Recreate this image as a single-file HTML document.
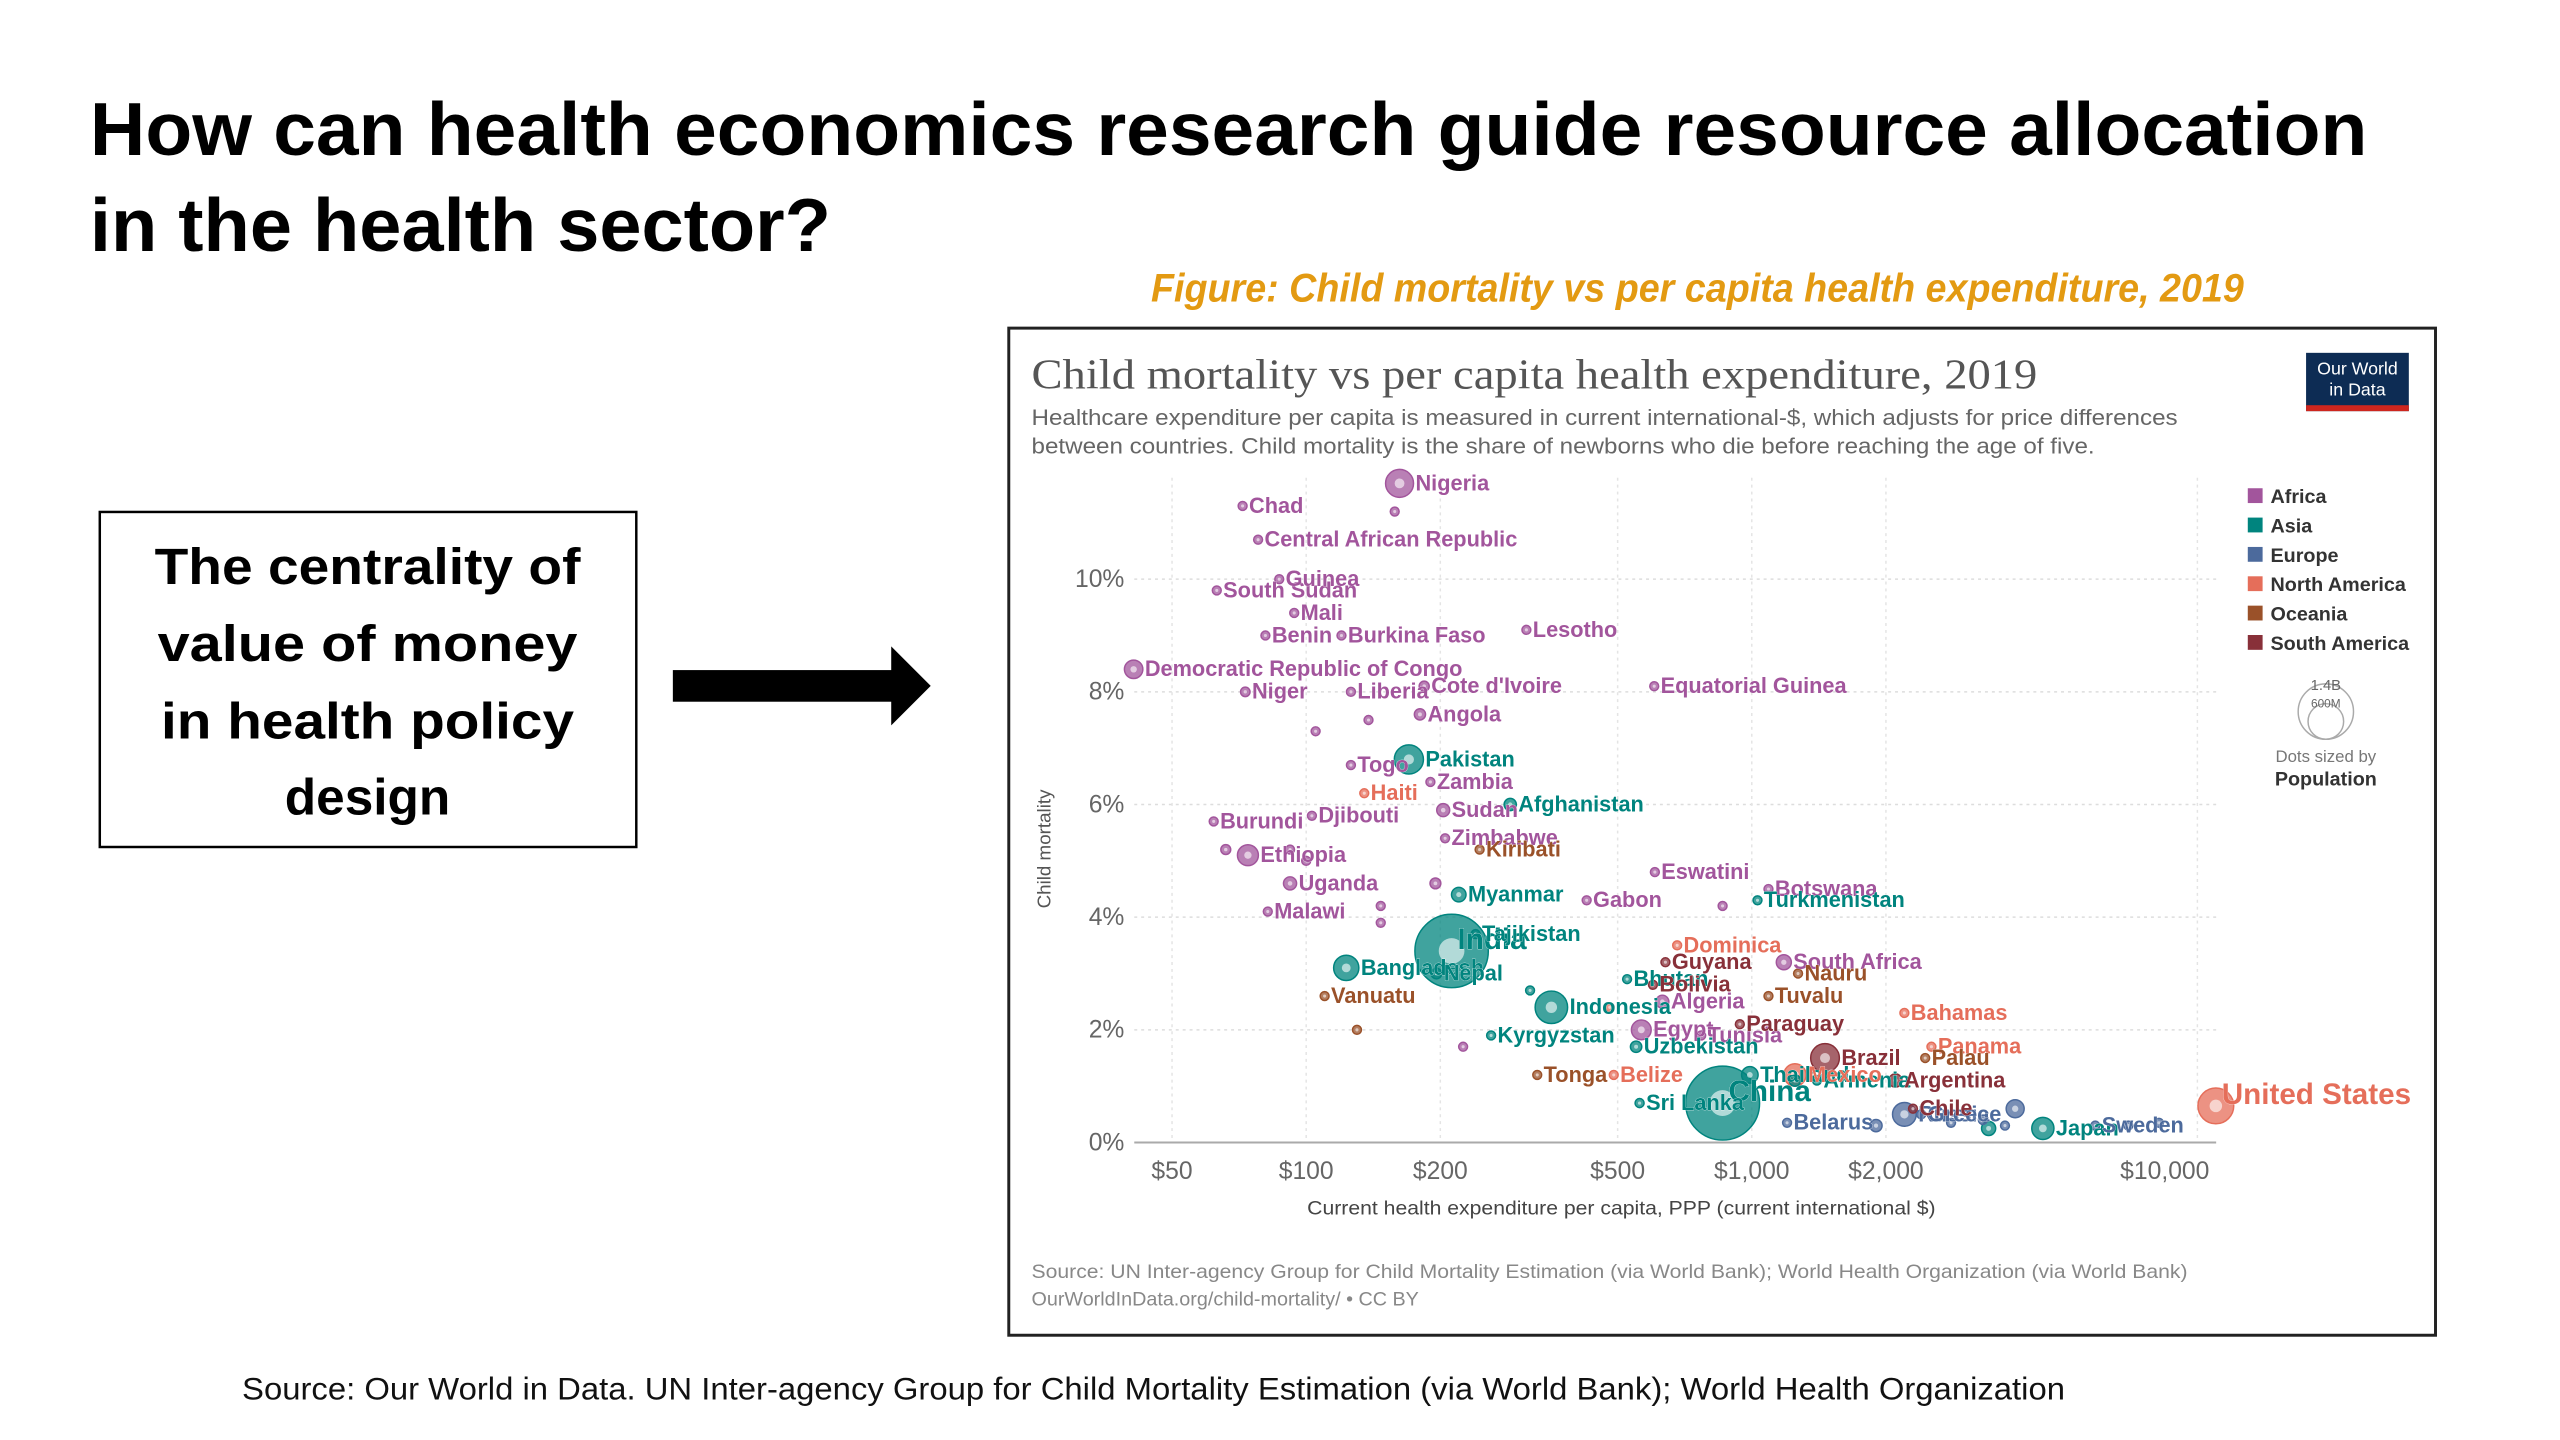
<!DOCTYPE html>
<html><head><meta charset="utf-8"><style>
html,body{margin:0;padding:0;background:#fff;width:2560px;height:1440px;overflow:hidden;}
svg{display:block;font-family:"Liberation Sans",sans-serif;}
</style></head><body>
<svg id="page" width="2560" height="1440" viewBox="0 0 2591 1457" preserveAspectRatio="none" xmlns="http://www.w3.org/2000/svg">
<rect width="2591" height="1457" fill="#fff"/>
<g font-weight="bold" font-size="76" fill="#000">
<text x="91" y="157" textLength="2305" lengthAdjust="spacingAndGlyphs">How can health economics research guide resource allocation</text>
<text x="91" y="254" textLength="750" lengthAdjust="spacingAndGlyphs">in the health sector?</text>
</g>
<text x="1165" y="305" font-size="40" font-weight="bold" font-style="italic" fill="#e39a12" textLength="1106" lengthAdjust="spacingAndGlyphs">Figure: Child mortality vs per capita health expenditure, 2019</text>
<g>
<rect x="101" y="518" width="543" height="339" fill="#fff" stroke="#000" stroke-width="2.5"/>
<g font-weight="bold" font-size="52" text-anchor="middle" fill="#000">
<text x="372" y="591" textLength="431" lengthAdjust="spacingAndGlyphs">The centrality of</text>
<text x="372" y="669" textLength="425" lengthAdjust="spacingAndGlyphs">value of money</text>
<text x="372" y="747" textLength="418" lengthAdjust="spacingAndGlyphs">in health policy</text>
<text x="372" y="824">design</text>
</g></g>
<g fill="#000">
<rect x="681" y="678" width="230" height="32"/>
<polygon points="902,654 942,694 902,734"/>
</g>
<text x="245" y="1416" font-size="32" fill="#111" textLength="1845" lengthAdjust="spacingAndGlyphs">Source: Our World in Data. UN Inter-agency Group for Child Mortality Estimation (via World Bank); World Health Organization</text>

<g>
<rect x="1021" y="332" width="1444" height="1019" fill="#fff" stroke="#222" stroke-width="3"/>
<text x="1044" y="393" font-family="Liberation Serif,serif" font-size="43" fill="#555" textLength="1018" lengthAdjust="spacingAndGlyphs">Child mortality vs per capita health expenditure, 2019</text>
<text x="1044" y="430" font-size="22" fill="#666" textLength="1160" lengthAdjust="spacingAndGlyphs">Healthcare expenditure per capita is measured in current international-$, which adjusts for price differences</text>
<text x="1044" y="459" font-size="22" fill="#666" textLength="1076" lengthAdjust="spacingAndGlyphs">between countries. Child mortality is the share of newborns who die before reaching the age of five.</text>
<g>
<rect x="2334" y="357" width="104" height="59" fill="#0d2c54"/>
<rect x="2334" y="410" width="104" height="6" fill="#ce261e"/>
<text x="2386" y="379" font-size="18" fill="#fff" text-anchor="middle">Our World</text>
<text x="2386" y="400" font-size="18" fill="#fff" text-anchor="middle">in Data</text>
</g>
<text transform="translate(1063,859) rotate(-90)" font-size="19" fill="#555" text-anchor="middle">Child mortality</text>
<text x="1641" y="1229" font-size="20" fill="#444" text-anchor="middle" textLength="636" lengthAdjust="spacingAndGlyphs">Current health expenditure per capita, PPP (current international $)</text>
<text x="1044" y="1293" font-size="20" fill="#888" textLength="1170" lengthAdjust="spacingAndGlyphs">Source: UN Inter-agency Group for Child Mortality Estimation (via World Bank); World Health Organization (via World Bank)</text>
<text x="1044" y="1321" font-size="20" fill="#888">OurWorldInData.org/child-mortality/ • CC BY</text>
<g id="grid"></g>
<g id="points"></g>
<g id="labels"></g>
<g id="legend"></g>
</g>
</svg>
<script>
const yTicks=[0,2,4,6,8,10];
const yTickLabels=["0%","2%","4%","6%","8%","10%"];
const xTicks=[50,100,200,500,1000,2000,10000];
const xTickLabels=["$50","$100","$200","$500","$1,000","$2,000","$10,000"];
const continents=["Africa","Asia","Europe","North America","Oceania","South America"];
const continentColors=["#a2559c","#00847e","#4c6a9c","#e56e5a","#9a5129","#883039"];
const names=["Chad","Nigeria","","Central African Republic","South Sudan","Guinea","Mali","Benin","Burkina Faso","Lesotho","Democratic Republic of Congo","Niger","Liberia","Cote d'Ivoire","Equatorial Guinea","Angola","","","Togo","Zambia","Burundi","Djibouti","Sudan","Zimbabwe","Ethiopia","","","","Uganda","Malawi","","","","Gabon","Eswatini","","South Africa","Botswana","Egypt","Algeria","Tunisia","",
"Pakistan","Afghanistan","Myanmar","India","Bangladesh","Nepal","Tajikistan","Indonesia","","Kyrgyzstan","Bhutan","Uzbekistan","China","Thailand","Sri Lanka","Turkmenistan","Armenia","","Japan","",
"Russia","Belarus","Greece","Sweden","","","","","","","",
"United States","Dominica","Haiti","Bahamas","Panama","Belize","","Mexico",
"Vanuatu","","Kiribati","Tonga","Nauru","Tuvalu","Palau",
"Guyana","Bolivia","Paraguay","Brazil","Argentina","Chile"];
const spend=[72,162,158,78,63,87,94,81,120,312,41,73,126,184,604,180,105,138,126,190,62,103,203,205,74,66,92,100,92,82,147,147,195,426,606,860,1180,1090,565,630,770,225,
170,287,220,212,123,196,240,355,318,260,525,550,860,990,560,1030,1400,1250,4500,3400,
2200,1200,2400,5900,1900,2800,3300,3700,3900,7000,8200,
11000,680,135,2200,2530,490,480,1250,
110,130,245,330,1270,1090,2450,
640,600,940,1460,2100,2300];
const mortality=[11.3,11.7,11.2,10.7,9.8,10.0,9.4,9.0,9.0,9.1,8.4,8.0,8.0,8.1,8.1,7.6,7.3,7.5,6.7,6.4,5.7,5.8,5.9,5.4,5.1,5.2,5.2,5.0,4.6,4.1,4.2,3.9,4.6,4.3,4.8,4.2,3.2,4.5,2.0,2.5,1.9,1.7,
6.8,6.0,4.4,3.4,3.1,3.0,3.7,2.4,2.7,1.9,2.9,1.7,0.7,1.2,0.7,4.3,1.1,1.1,0.25,0.25,
0.5,0.35,0.5,0.3,0.3,0.35,0.4,0.3,0.6,0.3,0.35,
0.65,3.5,6.2,2.3,1.7,1.2,2.4,1.2,
2.6,2.0,5.2,1.2,3.0,2.6,1.5,
3.2,2.8,2.1,1.5,1.1,0.6];
const population=[16,200,0,5,11,13,20,12,20,2,87,23,5,26,1.4,32,8,5,8,18,12,1,43,15,112,25,10,5,44,19,6,4,30,2.2,1.1,2.5,58,2.3,100,43,12,2,
217,38,54,1380,163,29,9.3,270,10,6.5,0.8,33,1400,70,21,6,3,33,126,51,
144,9.4,10.7,10.3,38,17,11,5,83,9,8.6,
328,0.07,11,0.4,4.3,0.4,5,128,
0.3,0.9,0.1,0.1,0.01,0.01,0.02,
0.8,11.5,7,211,45,19];
const continentIdx=[0,0,0,0,0,0,0,0,0,0,0,0,0,0,0,0,0,0,0,0,0,0,0,0,0,0,0,0,0,0,0,0,0,0,0,0,0,0,0,0,0,0,
1,1,1,1,1,1,1,1,1,1,1,1,1,1,1,1,1,1,1,1,
2,2,2,2,2,2,2,2,2,2,2,
3,3,3,3,3,3,3,3,
4,4,4,4,4,4,4,
5,5,5,5,5,5];
const bigLabels=["India","China","United States"];

const NS="http://www.w3.org/2000/svg";
const X0=1322,DEC=451,Y0=1156,PER=57,PL=1148,PR=2243;
function sx(v){return X0+DEC*Math.log10(v/100);}
function sy(p){return Y0-PER*p;}
function sr(p){return Math.max(4.5,Math.sqrt(p)*1.0);}
function mk(tag,attrs,parent){const e=document.createElementNS(NS,tag);for(const k in attrs)e.setAttribute(k,attrs[k]);parent.appendChild(e);return e;}
const grid=document.getElementById('grid');
yTicks.forEach((t,i)=>{
  if(t>0){const l=mk('line',{x1:PL,x2:PR,y1:sy(t),y2:sy(t),stroke:'#ddd','stroke-dasharray':'3,4','stroke-width':1.5},grid);
  
  }
  const tx=mk('text',{x:1138,y:sy(t)+8,'font-size':25,fill:'#666','text-anchor':'end'},grid);
  tx.textContent=yTickLabels[i];
  
  
});
xTicks.forEach((t,i)=>{
  const l=mk('line',{x1:sx(t),x2:sx(t),y1:sy(11.8),y2:Y0,stroke:'#e4e4e4','stroke-dasharray':'3,4','stroke-width':1.5},grid);
  
  
  const tx=mk('text',{x:t===10000?sx(t)-33:sx(t),y:1193,'font-size':25,fill:'#666','text-anchor':'middle'},grid);
  tx.textContent=xTickLabels[i];
  
  
});
const base=mk('line',{x1:PL,x2:PR,y1:Y0,y2:Y0,stroke:'#aaa','stroke-width':2},grid);


const pts=document.getElementById('points'),lab=document.getElementById('labels');
const order=spend.map((_,i)=>i).sort((a,b)=>population[b]-population[a]);
order.forEach(i=>{
  const c=continentColors[continentIdx[i]],cx=sx(spend[i]),cy=sy(mortality[i]),r=sr(population[i]);
  const g=mk('circle',{cx:cx,cy:cy,r:r,fill:c,'fill-opacity':0.75,stroke:c,'stroke-width':1.5},pts);
  mk('circle',{cx:cx,cy:cy,r:Math.max(1.5,r*0.35),fill:'#fff','fill-opacity':0.6},pts);
  
  
});
spend.forEach((v,i)=>{
  if(!names[i])return;
  const c=continentColors[continentIdx[i]],big=bigLabels.includes(names[i]);
  const r=sr(population[i]);
  const t=mk('text',{x:sx(v)+(big?6:r+2),y:sy(mortality[i])+(big?-2:7),'font-size':big?30:22,'font-weight':'bold',fill:c,stroke:'#fff','stroke-width':0.5,'paint-order':'stroke'},lab);
  t.textContent=names[i];
  
  
});
const leg=document.getElementById('legend');
continents.forEach((n,i)=>{
  const y=502+29.7*i;
  const s=mk('rect',{x:2275,y:y-8,width:15,height:15,fill:continentColors[i]},leg);
  
  
  const t=mk('text',{x:2298,y:y+7,'font-size':20,'font-weight':'bold',fill:'#333'},leg);
  t.textContent=n;
  
  
});
const c1=mk('circle',{cx:2354,cy:720,r:28,fill:'none',stroke:'#aaa','stroke-width':1.5},leg);


mk('circle',{cx:2354,cy:730,r:18,fill:'none',stroke:'#aaa','stroke-width':1.5},leg);
const la=mk('text',{x:2354,y:698,'font-size':15,fill:'#666','text-anchor':'middle'},leg);la.textContent='1.4B';
const lb=mk('text',{x:2354,y:716,'font-size':12,fill:'#666','text-anchor':'middle'},leg);lb.textContent='600M';
const lc=mk('text',{x:2354,y:771,'font-size':17,fill:'#777','text-anchor':'middle'},leg);lc.textContent='Dots sized by';
const ld=mk('text',{x:2354,y:795,'font-size':20,'font-weight':'bold',fill:'#333','text-anchor':'middle'},leg);ld.textContent='Population';
</script>
</body></html>
